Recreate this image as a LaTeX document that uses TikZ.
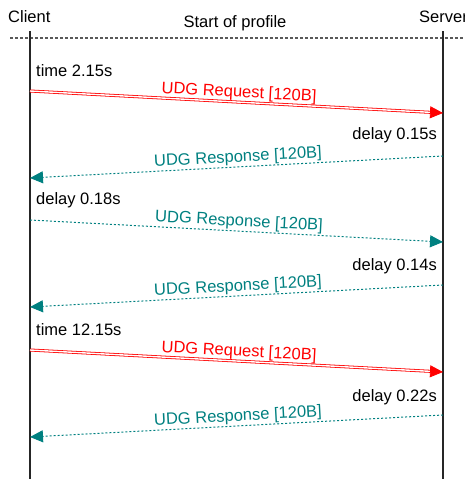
\documentclass[tikz,border=0pt]{standalone}
\usepackage{fontspec}
\setmainfont{Liberation Sans}
\usetikzlibrary{arrows.meta}
\definecolor{respteal}{RGB}{0,128,128}
\tikzstyle{request} = [draw=red, line width=0.8pt, double=white, double distance=1.4pt, -{Triangle[length=13pt,width=12pt,fill=red]}]
\tikzstyle{response} = [draw=respteal, line width=1pt, dash pattern=on 2pt off 2pt, -{Triangle[length=13pt,width=12pt,fill=respteal]}]
\tikzset{actor/.style={inner sep=0pt, text=black},note/.style={inner sep=0pt, text=black},msglabel/.style={midway, above, sloped, inner sep=1pt, xshift=2pt},lifeline/.style={draw=black!85, line width=1.2pt},profileline/.style={draw=black!65, line width=1.2pt, dash pattern=on 2.5pt off 2.5pt}}

\begin{document}
\begin{tikzpicture}[x=1pt, y=-1pt, font=\fontsize{16.5}{19}\selectfont]
    \useasboundingbox (0,0) rectangle (465,479);

    % actors and lifelines
    \node [actor, anchor=west] (client) at (8,17) {Client};
    \node [actor, anchor=west] (server) at (419,17) {Server};
    \node [actor] (profile) at (235,23) {Start of profile};

    \coordinate (clienttop) at (30,31);
    \coordinate (clientbot) at (30,479);
    \coordinate (servertop) at (443,31);
    \coordinate (serverbot) at (443,479);
    \coordinate (profilel) at (10,38);
    \coordinate (profiler) at (465,38);

    \draw [profileline] (profilel) -- (profiler);
    \draw [lifeline] (clienttop) -- (clientbot);
    \draw [lifeline] (servertop) -- (serverbot);

    % message end points
    \coordinate (c1) at (30,91);   \coordinate (s1) at (443,113);
    \coordinate (s2) at (443,156); \coordinate (c2) at (30,178);
    \coordinate (c3) at (30,220);  \coordinate (s3) at (443,242);
    \coordinate (s4) at (443,285); \coordinate (c4) at (30,307);
    \coordinate (c5) at (30,350);  \coordinate (s5) at (443,372);
    \coordinate (s6) at (443,415); \coordinate (c6) at (30,437);

    % messages
    \draw [request] (c1) -- (s1) node[msglabel, text=red] {UDG Request [120B]};
    \draw [response] (s2) -- (c2) node[msglabel, text=respteal] {UDG Response [120B]};
    \draw [response] (c3) -- (s3) node[msglabel, text=respteal] {UDG Response [120B]};
    \draw [response] (s4) -- (c4) node[msglabel, text=respteal] {UDG Response [120B]};
    \draw [request] (c5) -- (s5) node[msglabel, text=red] {UDG Request [120B]};
    \draw [response] (s6) -- (c6) node[msglabel, text=respteal] {UDG Response [120B]};

    % timings
    \node [note, anchor=west] (time1) at (36,71) {time 2.15s};
    \node [note, anchor=east] (delay2) at (437,135) {delay 0.15s};
    \node [note, anchor=west] (delay3) at (36,200) {delay 0.18s};
    \node [note, anchor=east] (delay4) at (437,266) {delay 0.14s};
    \node [note, anchor=west] (time5) at (36,330) {time 12.15s};
    \node [note, anchor=east] (delay6) at (437,397) {delay 0.22s};
\end{tikzpicture}
\end{document}
